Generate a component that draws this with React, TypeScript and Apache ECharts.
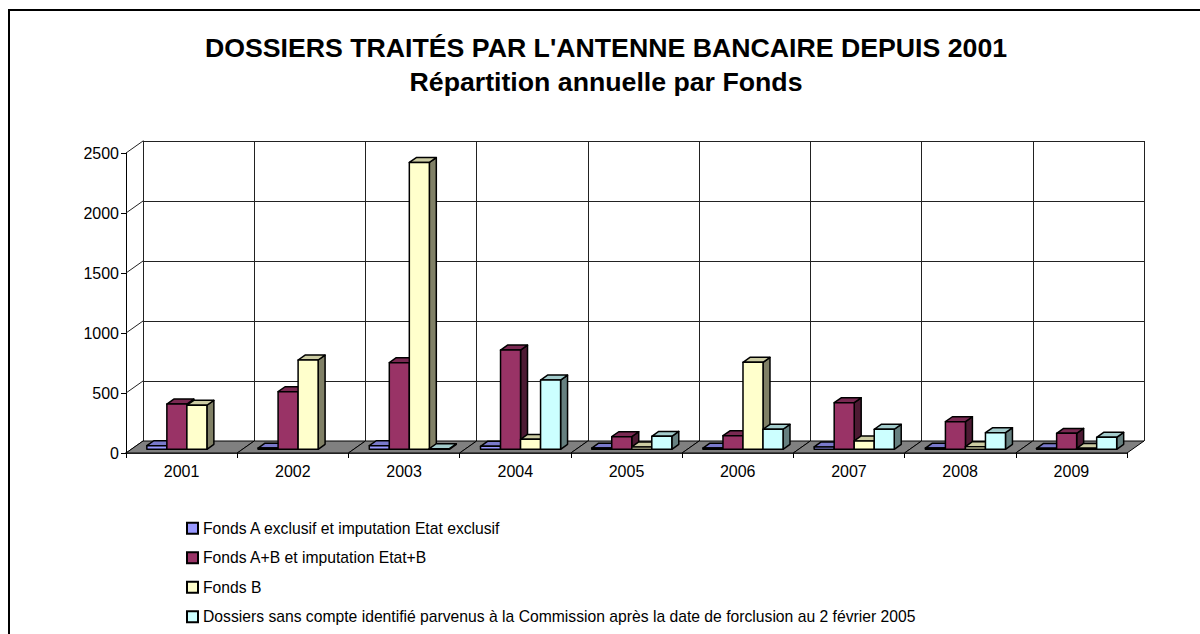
import React, { useEffect, useRef } from "react";
import * as echarts from "echarts";

const years = ["2001", "2002", "2003", "2004", "2005", "2006", "2007", "2008", "2009"];
const fondsA = [30, 10, 30, 25, 10, 10, 20, 10, 8];
const fondsAB = [377, 480, 722, 827, 105, 113, 388, 230, 133];
const fondsB = [367, 744, 2390, 83, 20, 725, 70, 22, 8];
const sansCompte: (number | null)[] = [null, null, 5, 577, 108, 167, 167, 138, 100];
const yTicks = [0, 500, 1000, 1500, 2000, 2500];

const seriesNames = [
  "Fonds A exclusif et imputation Etat exclusif",
  "Fonds A+B et imputation Etat+B",
  "Fonds B",
  "Dossiers sans compte identifié parvenus à la Commission après la date de forclusion au 2 février 2005",
];
const seriesData = [fondsA, fondsAB, fondsB, sansCompte];
const faceColors = [
  { front: "#9999FF", top: "#7A7ACC", side: "#4D4D80" },
  { front: "#993366", top: "#7A2952", side: "#4D1A33" },
  { front: "#FFFFCC", top: "#CCCCA3", side: "#808066" },
  { front: "#CCFFFF", top: "#A3CCCC", side: "#668080" },
];

const FONT = '"Liberation Sans", Arial, sans-serif';
const DX = 17;
const DY = -12;
const F1 = 0.31;
const F2 = 0.72;
const BAR_FRAC = 0.18;

export default function App() {
  const ref = useRef<HTMLDivElement>(null);
  useEffect(() => {
    if (!ref.current) return;
    const chart = echarts.init(ref.current, undefined, { renderer: "svg" });

    const barSeries = seriesData.map((arr, s) => ({
      type: "custom",
      name: seriesNames[s],
      xAxisIndex: 0,
      yAxisIndex: 0,
      z: 3,
      itemStyle: { color: faceColors[s].front },
      data: arr.map((v, i) => [i, v]),
      renderItem: (params: any, api: any) => {
        const idx = api.value(0);
        const v = api.value(1);
        if (v == null || isNaN(v)) return null;
        const p0 = api.coord([idx, 0]);
        const p1 = api.coord([idx, v]);
        const band = api.size([1, 0])[0];
        const w = band * BAR_FRAC;
        const xl = p0[0] - 2 * w + s * w + F1 * DX;
        const yb = p0[1] + F1 * DY;
        const yt = p1[1] + F1 * DY;
        const dx = (F2 - F1) * DX;
        const dy = (F2 - F1) * DY;
        const c = faceColors[s];
        const stroke = { stroke: "#000", lineWidth: 1.5, lineJoin: "round" };
        return {
          type: "group",
          children: [
            {
              type: "polygon",
              shape: { points: [[xl + w, yt], [xl + w + dx, yt + dy], [xl + w + dx, yb + dy], [xl + w, yb]] },
              style: { fill: c.side, ...stroke },
            },
            {
              type: "polygon",
              shape: { points: [[xl, yt], [xl + w, yt], [xl + w + dx, yt + dy], [xl + dx, yt + dy]] },
              style: { fill: c.top, ...stroke },
            },
            {
              type: "rect",
              shape: { x: xl, y: yt, width: w, height: yb - yt },
              style: { fill: c.front, ...stroke },
            },
          ],
        };
      },
    }));

    const titleStyle = {
      fontSize: 26.7,
      fontWeight: "bold",
      fontFamily: FONT,
      align: "center",
      verticalAlign: "middle",
      fill: "#000",
    };

    const option: any = {
      animation: false,
      graphic: [
        {
          type: "rect",
          z: -10,
          shape: { x: 9, y: 10, width: 1250, height: 700 },
          style: { fill: "none", stroke: "#000", lineWidth: 2 },
        },
        {
          type: "text",
          x: 606,
          y: 48,
          style: { text: "DOSSIERS TRAITÉS PAR L'ANTENNE BANCAIRE DEPUIS 2001", ...titleStyle },
        },
        {
          type: "text",
          x: 606,
          y: 82,
          style: { text: "Répartition annuelle par Fonds", ...titleStyle },
        },
      ],
      legend: {
        orient: "vertical",
        left: 186,
        top: 520,
        padding: 0,
        itemWidth: 11,
        itemHeight: 11,
        itemGap: 13,
        icon: "rect",
        itemStyle: { borderColor: "#000", borderWidth: 2 },
        textStyle: { fontSize: 15.7, fontFamily: FONT, color: "#000", lineHeight: 16.5 },
        data: seriesNames.map((n, s) => ({ name: n, itemStyle: { color: faceColors[s].front } })),
      },
      grid: [
        { left: 126, top: 153, width: 1001, height: 300 },
        { left: 143, top: 141, width: 1001, height: 300 },
      ],
      xAxis: [
        {
          type: "category",
          gridIndex: 0,
          data: years,
          axisLine: { show: true, lineStyle: { color: "#000", width: 1.5 } },
          axisTick: { show: true, interval: 0, length: 5, lineStyle: { color: "#000" } },
          axisLabel: { fontSize: 16, fontFamily: FONT, color: "#000", margin: 10 },
          splitLine: { show: false },
        },
        {
          type: "category",
          gridIndex: 1,
          data: years,
          axisLine: { show: false },
          axisTick: { show: false },
          axisLabel: { show: false },
          splitLine: { show: true, interval: 0, lineStyle: { color: "#222", width: 1 } },
        },
      ],
      yAxis: [
        {
          type: "value",
          gridIndex: 0,
          min: 0,
          max: 2500,
          interval: 500,
          axisLine: { show: true, lineStyle: { color: "#000", width: 1 } },
          axisTick: { show: true, length: 5, lineStyle: { color: "#000" } },
          axisLabel: {
            fontSize: 16,
            fontFamily: FONT,
            color: "#000",
            margin: 7,
            formatter: (v: number) => String(v),
          },
          splitLine: { show: false },
        },
        {
          type: "value",
          gridIndex: 1,
          min: 0,
          max: 2500,
          interval: 500,
          axisLine: { show: true, lineStyle: { color: "#222", width: 1 } },
          axisTick: { show: false },
          axisLabel: { show: false },
          splitLine: { show: true, lineStyle: { color: "#222", width: 1 } },
        },
      ],
      series: [
        {
          type: "custom",
          name: "sideWall",
          xAxisIndex: 0,
          yAxisIndex: 0,
          z: 1,
          silent: true,
          data: yTicks.map((v) => [0, v]),
          renderItem: (params: any, api: any) => {
            const p = api.coord([0, api.value(1)]);
            const band = api.size([1, 0])[0];
            const x0 = p[0] - band / 2;
            return {
              type: "line",
              shape: { x1: x0, y1: p[1], x2: x0 + DX, y2: p[1] + DY },
              style: { stroke: "#222", lineWidth: 1 },
            };
          },
        },
        {
          type: "custom",
          name: "floor",
          xAxisIndex: 0,
          yAxisIndex: 0,
          z: 2,
          silent: true,
          data: years.map((_, i) => [i, 0]),
          renderItem: (params: any, api: any) => {
            const p = api.coord([api.value(0), 0]);
            const band = api.size([1, 0])[0];
            const x0 = p[0] - band / 2;
            const x1 = p[0] + band / 2;
            const y = p[1];
            return {
              type: "polygon",
              shape: { points: [[x0, y], [x1, y], [x1 + DX, y + DY], [x0 + DX, y + DY]] },
              style: { fill: "#808080", stroke: "#000", lineWidth: 1 },
            };
          },
        },
        ...barSeries,
      ],
    };
    chart.setOption(option);
    return () => chart.dispose();
  }, []);
  return (
    <div
      ref={ref}
      style={{ position: "fixed", left: 0, top: 0, width: 1200, height: 634, background: "#fff" }}
    />
  );
}
